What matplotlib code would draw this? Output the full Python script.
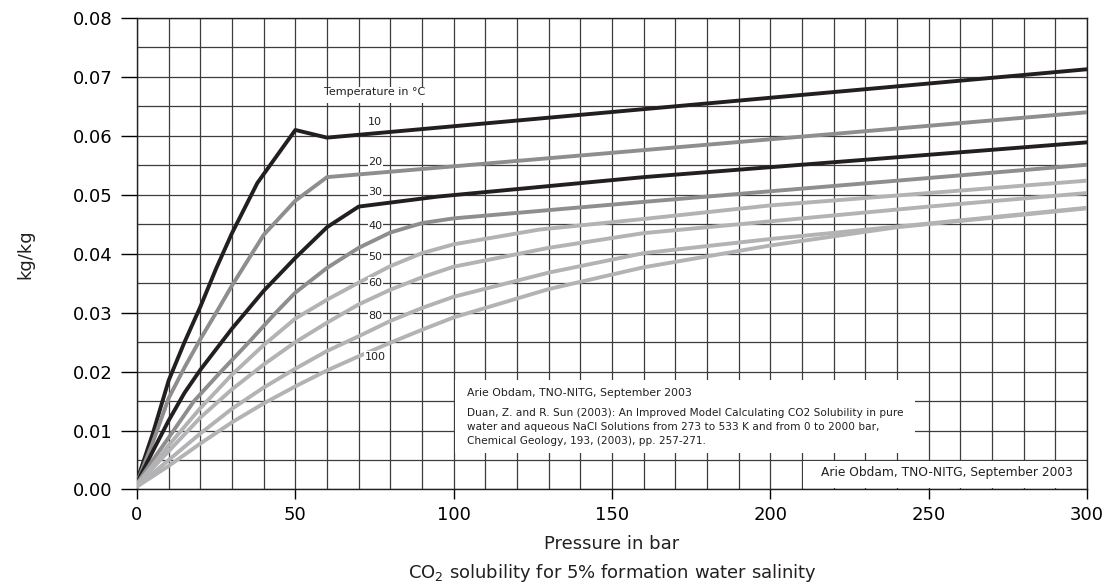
import numpy as np
import matplotlib
matplotlib.use("Agg")
import matplotlib.pyplot as plt
from matplotlib.patches import Rectangle

# ---- data ----
p10 = [0, 5, 10, 15, 20, 25, 30, 38, 50, 60, 300]
v10 = [0.0015, 0.0095, 0.0185, 0.025, 0.031, 0.0375, 0.0435, 0.052, 0.061, 0.0597, 0.0713]

p20 = [0, 5, 10, 15, 20, 25, 30, 40, 50, 60, 300]
v20 = [0.0012, 0.008, 0.0155, 0.0207, 0.0255, 0.030, 0.0346, 0.0432, 0.049, 0.053, 0.0640]

p30 = [0, 5, 10, 15, 20, 25, 30, 40, 50, 60, 70, 95, 160, 300]
v30 = [0.0012, 0.0065, 0.0117, 0.0164, 0.0203, 0.0238, 0.0273, 0.0337, 0.0393, 0.0445, 0.048, 0.0497, 0.0530, 0.0589]

p40 = [0, 5, 10, 18, 26, 35, 44, 50, 60, 70, 80, 90, 100, 160, 300]
v40 = [0.001, 0.005, 0.0088, 0.015, 0.0197, 0.0248, 0.0301, 0.0334, 0.0376, 0.041, 0.0436, 0.0452, 0.046, 0.0488, 0.0551]

p50 = [0, 10, 20, 30, 40, 50, 60, 70, 80, 90, 100, 127, 160, 200, 250, 300]
v50 = [0.0008, 0.0075, 0.0138, 0.0195, 0.0245, 0.029, 0.0322, 0.0351, 0.0379, 0.0401, 0.0416, 0.0441, 0.0459, 0.0482, 0.0503, 0.0524]

p60 = [0, 10, 20, 30, 40, 50, 60, 70, 80, 90, 100, 130, 160, 200, 250, 300]
v60 = [0.0008, 0.0065, 0.0122, 0.017, 0.0212, 0.025, 0.0283, 0.0314, 0.0339, 0.036, 0.0378, 0.041, 0.0435, 0.0455, 0.048, 0.0503]

p80 = [0, 10, 20, 30, 40, 50, 60, 70, 80, 90, 100, 130, 160, 200, 240, 300]
v80 = [0.0005, 0.005, 0.0095, 0.0137, 0.0173, 0.0205, 0.0235, 0.026, 0.0286, 0.0308, 0.0327, 0.0368, 0.0401, 0.0425, 0.0446, 0.0478]

p100 = [0, 10, 20, 30, 40, 50, 60, 70, 80, 90, 100, 130, 160, 200, 240, 300]
v100 = [0.0005, 0.004, 0.0078, 0.0114, 0.0146, 0.0175, 0.0202, 0.0226, 0.0249, 0.0271, 0.0292, 0.034, 0.0377, 0.0414, 0.0445, 0.0477]

temps = ["10", "20", "30", "40", "50", "60", "80", "100"]
series_p = [p10, p20, p30, p40, p50, p60, p80, p100]
series_v = [v10, v20, v30, v40, v50, v60, v80, v100]
colors = ["#231f20", "#8e8e8e", "#231f20", "#8e8e8e", "#b3b3b5", "#b3b3b5", "#b3b3b5", "#b3b3b5"]

# label positions (data coordinates)
label_x = 75.2
label_y = [0.0624, 0.0556, 0.0505, 0.0447, 0.0395, 0.0351, 0.0295, 0.0225]

x_ticks = [0, 50, 100, 150, 200, 250, 300]
y_ticks = [0.00, 0.01, 0.02, 0.03, 0.04, 0.05, 0.06, 0.07, 0.08]

fig = plt.figure(figsize=(11.13, 5.86), dpi=100)
ax = fig.add_axes([0.12309, 0.16468, 0.85355, 0.80461])

ax.set_xlim(0, 300)
ax.set_ylim(0, 0.08)
ax.set_xticks(x_ticks)
ax.set_yticks(y_ticks)
ax.set_yticklabels([f"{t:.2f}" for t in y_ticks])
ax.set_xticks(np.arange(0, 301, 10), minor=True)
ax.set_yticks(np.arange(0, 0.0801, 0.005), minor=True)
ax.grid(True, which="both", color="#3c3c3c", linewidth=0.9)
ax.set_axisbelow(True)
ax.tick_params(axis="x", which="major", direction="out", length=7, width=1, labelsize=13, pad=5)
ax.tick_params(axis="y", which="major", direction="out", length=11.5, width=1, labelsize=13, pad=6)
ax.tick_params(which="minor", length=0)
for s in ax.spines.values():
    s.set_color("#231f20")
    s.set_linewidth(1.0)

for p, v, c in zip(series_p, series_v, colors):
    ax.plot(p, v, color=c, linewidth=2.8, solid_joinstyle="round", solid_capstyle="round", zorder=3)

# Temperature label with white background
ax.add_patch(Rectangle((56.8, 0.0656), 35.7, 0.0027, facecolor="white", edgecolor="none", zorder=4))
ax.text(74.9, 0.0674, "Temperature in °C", fontsize=8, ha="center", va="center", color="#231f20", zorder=5)
for t, y in zip(temps, label_y):
    ax.text(label_x, y, t, fontsize=8, ha="center", va="center", color="#231f20", zorder=5,
            bbox=dict(facecolor="white", edgecolor="none", pad=0.3))

# reference note box
ax.add_patch(Rectangle((100.4, 0.0062), 145.3, 0.0124, facecolor="white", edgecolor="none", zorder=4))
note_x = 104.1
ax.text(note_x, 0.0164, "Arie Obdam, TNO-NITG, September 2003", fontsize=7.8, ha="left", va="center",
        color="#231f20", zorder=5)
ax.text(note_x, 0.01306, "Duan, Z. and R. Sun (2003): An Improved Model Calculating CO2 Solubility in pure",
        fontsize=7.6, ha="left", va="center", color="#231f20", zorder=5)
ax.text(note_x, 0.01068, "water and aqueous NaCl Solutions from 273 to 533 K and from 0 to 2000 bar,",
        fontsize=7.6, ha="left", va="center", color="#231f20", zorder=5)
ax.text(note_x, 0.00825, "Chemical Geology, 193, (2003), pp. 257-271.",
        fontsize=7.6, ha="left", va="center", color="#231f20", zorder=5)

# bottom-right credit box
ax.add_patch(Rectangle((210.3, 0.0002), 89.5, 0.0046, facecolor="white", edgecolor="none", zorder=4))
ax.text(295.6, 0.0028, "Arie Obdam, TNO-NITG, September 2003", fontsize=8.8, ha="right", va="center",
        color="#231f20", zorder=5)

ax.set_xlabel("Pressure in bar", fontsize=13, color="#231f20", labelpad=8)
ax.set_ylabel("kg/kg", fontsize=13, color="#231f20", labelpad=28)
fig.text(0.5499, 1 - 573 / 586, "CO$_2$ solubility for 5% formation water salinity", fontsize=13,
         ha="center", va="center", color="#231f20")

fig.savefig("out.png", dpi=100)
